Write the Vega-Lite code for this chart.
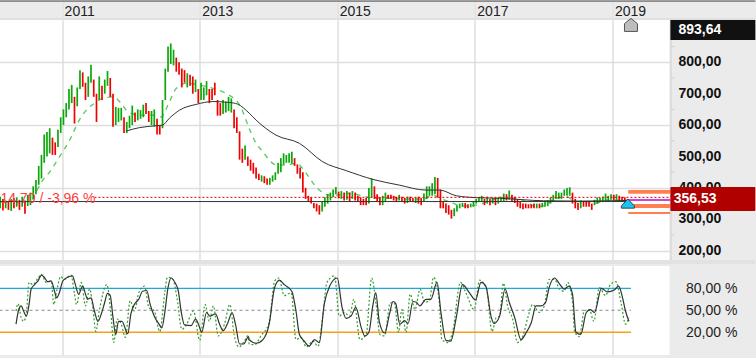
{"$schema":"https://vega.github.io/schema/vega-lite/v6.json","background":"#ebebeb","padding":{"left":-2.5,"top":0,"right":0,"bottom":4},"spacing":1,"config":{"view":{"stroke":null,"fill":"#ffffff"},"text":{"font":"Liberation Sans"}},
"datasets":{
"candles":[
{"t":2010.1,"l":335,"h":372,"d":"u"},{"t":2010.14,"l":328,"h":365,"d":"d"},{"t":2010.18,"l":335,"h":360,"d":"u"},{"t":2010.22,"l":330,"h":355,"d":"d"},{"t":2010.26,"l":327,"h":365,"d":"u"},{"t":2010.3,"l":335,"h":368,"d":"d"},{"t":2010.34,"l":340,"h":370,"d":"u"},{"t":2010.38,"l":330,"h":362,"d":"d"},{"t":2010.42,"l":340,"h":372,"d":"u"},{"t":2010.46,"l":318,"h":360,"d":"d"},{"t":2010.5,"l":342,"h":378,"d":"u"},{"t":2010.54,"l":345,"h":385,"d":"u"},{"t":2010.58,"l":365,"h":405,"d":"u"},{"t":2010.62,"l":380,"h":425,"d":"u"},{"t":2010.66,"l":410,"h":470,"d":"u"},{"t":2010.7,"l":430,"h":505,"d":"u"},{"t":2010.74,"l":480,"h":570,"d":"u"},{"t":2010.78,"l":500,"h":578,"d":"u"},{"t":2010.82,"l":510,"h":590,"d":"u"},{"t":2010.86,"l":505,"h":560,"d":"d"},{"t":2010.9,"l":505,"h":545,"d":"d"},{"t":2010.94,"l":530,"h":585,"d":"u"},{"t":2010.98,"l":575,"h":625,"d":"u"},{"t":2011.02,"l":600,"h":650,"d":"u"},{"t":2011.06,"l":625,"h":670,"d":"u"},{"t":2011.1,"l":650,"h":715,"d":"u"},{"t":2011.14,"l":670,"h":728,"d":"u"},{"t":2011.18,"l":605,"h":690,"d":"d"},{"t":2011.22,"l":660,"h":720,"d":"u"},{"t":2011.26,"l":715,"h":775,"d":"u"},{"t":2011.3,"l":722,"h":768,"d":"d"},{"t":2011.34,"l":680,"h":735,"d":"d"},{"t":2011.38,"l":690,"h":755,"d":"u"},{"t":2011.42,"l":735,"h":792,"d":"u"},{"t":2011.46,"l":690,"h":745,"d":"d"},{"t":2011.5,"l":610,"h":700,"d":"d"},{"t":2011.54,"l":680,"h":755,"d":"u"},{"t":2011.58,"l":680,"h":725,"d":"d"},{"t":2011.62,"l":700,"h":745,"d":"u"},{"t":2011.66,"l":725,"h":772,"d":"u"},{"t":2011.7,"l":690,"h":750,"d":"d"},{"t":2011.74,"l":595,"h":700,"d":"d"},{"t":2011.78,"l":600,"h":658,"d":"u"},{"t":2011.82,"l":610,"h":655,"d":"u"},{"t":2011.86,"l":615,"h":655,"d":"u"},{"t":2011.9,"l":575,"h":625,"d":"d"},{"t":2011.94,"l":575,"h":610,"d":"u"},{"t":2011.98,"l":590,"h":630,"d":"u"},{"t":2012.02,"l":600,"h":662,"d":"u"},{"t":2012.06,"l":610,"h":640,"d":"d"},{"t":2012.1,"l":615,"h":650,"d":"u"},{"t":2012.14,"l":620,"h":648,"d":"u"},{"t":2012.18,"l":625,"h":665,"d":"u"},{"t":2012.22,"l":635,"h":670,"d":"d"},{"t":2012.26,"l":610,"h":645,"d":"d"},{"t":2012.3,"l":600,"h":645,"d":"u"},{"t":2012.34,"l":595,"h":650,"d":"u"},{"t":2012.38,"l":570,"h":620,"d":"d"},{"t":2012.42,"l":570,"h":600,"d":"d"},{"t":2012.46,"l":590,"h":680,"d":"u"},{"t":2012.5,"l":680,"h":780,"d":"u"},{"t":2012.54,"l":770,"h":850,"d":"u"},{"t":2012.58,"l":795,"h":860,"d":"u"},{"t":2012.62,"l":790,"h":840,"d":"u"},{"t":2012.66,"l":770,"h":815,"d":"d"},{"t":2012.7,"l":760,"h":800,"d":"d"},{"t":2012.74,"l":720,"h":780,"d":"d"},{"t":2012.78,"l":735,"h":775,"d":"d"},{"t":2012.82,"l":720,"h":765,"d":"u"},{"t":2012.86,"l":725,"h":760,"d":"d"},{"t":2012.9,"l":700,"h":755,"d":"d"},{"t":2012.94,"l":705,"h":745,"d":"u"},{"t":2012.98,"l":670,"h":715,"d":"d"},{"t":2013.02,"l":680,"h":735,"d":"u"},{"t":2013.06,"l":680,"h":720,"d":"u"},{"t":2013.1,"l":695,"h":740,"d":"u"},{"t":2013.14,"l":670,"h":715,"d":"d"},{"t":2013.18,"l":680,"h":715,"d":"d"},{"t":2013.22,"l":695,"h":735,"d":"d"},{"t":2013.26,"l":630,"h":680,"d":"d"},{"t":2013.3,"l":630,"h":670,"d":"d"},{"t":2013.34,"l":635,"h":680,"d":"u"},{"t":2013.38,"l":640,"h":675,"d":"u"},{"t":2013.42,"l":645,"h":690,"d":"u"},{"t":2013.46,"l":640,"h":685,"d":"u"},{"t":2013.5,"l":590,"h":650,"d":"d"},{"t":2013.54,"l":575,"h":625,"d":"d"},{"t":2013.58,"l":490,"h":580,"d":"d"},{"t":2013.62,"l":480,"h":525,"d":"d"},{"t":2013.66,"l":490,"h":535,"d":"u"},{"t":2013.7,"l":470,"h":500,"d":"d"},{"t":2013.74,"l":455,"h":490,"d":"d"},{"t":2013.78,"l":445,"h":480,"d":"d"},{"t":2013.82,"l":430,"h":465,"d":"d"},{"t":2013.86,"l":425,"h":445,"d":"d"},{"t":2013.9,"l":420,"h":440,"d":"u"},{"t":2013.94,"l":415,"h":437,"d":"d"},{"t":2013.98,"l":410,"h":430,"d":"d"},{"t":2014.02,"l":410,"h":432,"d":"u"},{"t":2014.06,"l":420,"h":440,"d":"u"},{"t":2014.1,"l":425,"h":450,"d":"u"},{"t":2014.14,"l":445,"h":480,"d":"u"},{"t":2014.18,"l":450,"h":495,"d":"u"},{"t":2014.22,"l":475,"h":510,"d":"u"},{"t":2014.26,"l":480,"h":505,"d":"u"},{"t":2014.3,"l":480,"h":510,"d":"u"},{"t":2014.34,"l":478,"h":515,"d":"u"},{"t":2014.38,"l":470,"h":495,"d":"d"},{"t":2014.42,"l":445,"h":475,"d":"d"},{"t":2014.46,"l":430,"h":465,"d":"d"},{"t":2014.5,"l":385,"h":450,"d":"d"},{"t":2014.54,"l":365,"h":400,"d":"d"},{"t":2014.58,"l":355,"h":375,"d":"d"},{"t":2014.62,"l":350,"h":370,"d":"d"},{"t":2014.66,"l":335,"h":352,"d":"d"},{"t":2014.7,"l":325,"h":350,"d":"d"},{"t":2014.74,"l":315,"h":345,"d":"d"},{"t":2014.78,"l":325,"h":355,"d":"u"},{"t":2014.82,"l":340,"h":370,"d":"u"},{"t":2014.86,"l":350,"h":380,"d":"u"},{"t":2014.9,"l":360,"h":385,"d":"u"},{"t":2014.94,"l":370,"h":395,"d":"u"},{"t":2014.98,"l":380,"h":403,"d":"u"},{"t":2015.02,"l":367,"h":388,"d":"d"},{"t":2015.06,"l":365,"h":390,"d":"u"},{"t":2015.1,"l":360,"h":385,"d":"d"},{"t":2015.14,"l":362,"h":390,"d":"u"},{"t":2015.18,"l":355,"h":385,"d":"d"},{"t":2015.22,"l":365,"h":390,"d":"u"},{"t":2015.26,"l":360,"h":385,"d":"d"},{"t":2015.3,"l":355,"h":375,"d":"d"},{"t":2015.34,"l":345,"h":370,"d":"d"},{"t":2015.38,"l":345,"h":365,"d":"d"},{"t":2015.42,"l":345,"h":368,"d":"d"},{"t":2015.46,"l":350,"h":400,"d":"u"},{"t":2015.5,"l":370,"h":430,"d":"u"},{"t":2015.54,"l":365,"h":405,"d":"d"},{"t":2015.58,"l":355,"h":380,"d":"d"},{"t":2015.62,"l":345,"h":370,"d":"d"},{"t":2015.66,"l":345,"h":375,"d":"u"},{"t":2015.7,"l":355,"h":385,"d":"u"},{"t":2015.74,"l":365,"h":378,"d":"d"},{"t":2015.78,"l":365,"h":378,"d":"d"},{"t":2015.82,"l":360,"h":375,"d":"d"},{"t":2015.86,"l":355,"h":372,"d":"d"},{"t":2015.9,"l":360,"h":378,"d":"u"},{"t":2015.94,"l":355,"h":372,"d":"d"},{"t":2015.98,"l":350,"h":368,"d":"d"},{"t":2016.02,"l":352,"h":372,"d":"u"},{"t":2016.06,"l":358,"h":372,"d":"d"},{"t":2016.1,"l":355,"h":368,"d":"d"},{"t":2016.14,"l":352,"h":370,"d":"u"},{"t":2016.18,"l":350,"h":372,"d":"d"},{"t":2016.22,"l":345,"h":368,"d":"d"},{"t":2016.26,"l":358,"h":382,"d":"u"},{"t":2016.3,"l":365,"h":405,"d":"u"},{"t":2016.34,"l":375,"h":405,"d":"u"},{"t":2016.38,"l":375,"h":415,"d":"u"},{"t":2016.42,"l":380,"h":435,"d":"u"},{"t":2016.46,"l":370,"h":432,"d":"d"},{"t":2016.5,"l":335,"h":395,"d":"d"},{"t":2016.54,"l":335,"h":355,"d":"d"},{"t":2016.58,"l":320,"h":350,"d":"d"},{"t":2016.62,"l":315,"h":345,"d":"d"},{"t":2016.66,"l":302,"h":330,"d":"d"},{"t":2016.7,"l":310,"h":335,"d":"u"},{"t":2016.74,"l":325,"h":345,"d":"u"},{"t":2016.78,"l":335,"h":350,"d":"u"},{"t":2016.82,"l":340,"h":352,"d":"u"},{"t":2016.86,"l":335,"h":352,"d":"d"},{"t":2016.9,"l":335,"h":348,"d":"d"},{"t":2016.94,"l":338,"h":350,"d":"u"},{"t":2016.98,"l":340,"h":358,"d":"u"},{"t":2017.02,"l":350,"h":365,"d":"u"},{"t":2017.06,"l":355,"h":370,"d":"u"},{"t":2017.1,"l":355,"h":375,"d":"u"},{"t":2017.14,"l":345,"h":365,"d":"d"},{"t":2017.18,"l":350,"h":372,"d":"u"},{"t":2017.22,"l":345,"h":365,"d":"d"},{"t":2017.26,"l":350,"h":368,"d":"u"},{"t":2017.3,"l":345,"h":368,"d":"d"},{"t":2017.34,"l":350,"h":370,"d":"u"},{"t":2017.38,"l":355,"h":372,"d":"u"},{"t":2017.42,"l":358,"h":382,"d":"u"},{"t":2017.46,"l":360,"h":380,"d":"d"},{"t":2017.5,"l":362,"h":392,"d":"u"},{"t":2017.54,"l":355,"h":378,"d":"d"},{"t":2017.58,"l":352,"h":372,"d":"d"},{"t":2017.62,"l":340,"h":365,"d":"d"},{"t":2017.66,"l":335,"h":355,"d":"d"},{"t":2017.7,"l":332,"h":350,"d":"d"},{"t":2017.74,"l":335,"h":350,"d":"d"},{"t":2017.78,"l":335,"h":348,"d":"d"},{"t":2017.82,"l":335,"h":348,"d":"d"},{"t":2017.86,"l":335,"h":350,"d":"d"},{"t":2017.9,"l":335,"h":350,"d":"u"},{"t":2017.94,"l":335,"h":350,"d":"d"},{"t":2017.98,"l":338,"h":352,"d":"u"},{"t":2018.02,"l":340,"h":355,"d":"u"},{"t":2018.06,"l":342,"h":360,"d":"u"},{"t":2018.1,"l":350,"h":370,"d":"u"},{"t":2018.14,"l":355,"h":378,"d":"u"},{"t":2018.18,"l":365,"h":390,"d":"u"},{"t":2018.22,"l":365,"h":385,"d":"u"},{"t":2018.26,"l":365,"h":385,"d":"u"},{"t":2018.3,"l":375,"h":395,"d":"u"},{"t":2018.34,"l":375,"h":400,"d":"u"},{"t":2018.38,"l":375,"h":402,"d":"u"},{"t":2018.42,"l":350,"h":385,"d":"d"},{"t":2018.46,"l":335,"h":365,"d":"d"},{"t":2018.5,"l":330,"h":352,"d":"d"},{"t":2018.54,"l":335,"h":360,"d":"u"},{"t":2018.58,"l":340,"h":358,"d":"d"},{"t":2018.62,"l":340,"h":358,"d":"d"},{"t":2018.66,"l":340,"h":355,"d":"d"},{"t":2018.7,"l":330,"h":350,"d":"d"},{"t":2018.74,"l":345,"h":362,"d":"u"},{"t":2018.78,"l":350,"h":370,"d":"u"},{"t":2018.82,"l":355,"h":368,"d":"u"},{"t":2018.86,"l":355,"h":372,"d":"u"},{"t":2018.9,"l":360,"h":382,"d":"u"},{"t":2018.94,"l":358,"h":375,"d":"u"},{"t":2018.98,"l":362,"h":380,"d":"u"},{"t":2019.02,"l":360,"h":378,"d":"d"},{"t":2019.06,"l":362,"h":380,"d":"u"},{"t":2019.1,"l":360,"h":375,"d":"d"},{"t":2019.14,"l":358,"h":372,"d":"d"},{"t":2019.18,"l":352,"h":370,"d":"d"},{"t":2019.22,"l":352,"h":365,"d":"d"}],
"smaLong":[{"t":2011.93,"p":581},{"t":2012.125,"p":592},{"t":2012.37,"p":598},{"t":2012.46,"p":600},{"t":2012.56,"p":622},{"t":2012.71,"p":648},{"t":2012.95,"p":666},{"t":2013.19,"p":675},{"t":2013.43,"p":672},{"t":2013.55,"p":667},{"t":2013.72,"p":638},{"t":2013.82,"p":616},{"t":2014.11,"p":568},{"t":2014.45,"p":542},{"t":2014.79,"p":483},{"t":2015.13,"p":455},{"t":2015.52,"p":427},{"t":2015.9,"p":409},{"t":2016.29,"p":393},{"t":2016.49,"p":393},{"t":2016.73,"p":375},{"t":2017.02,"p":369},{"t":2017.36,"p":367},{"t":2018,"p":359},{"t":2018.5,"p":358},{"t":2019.22,"p":360}],
"smaShort":[{"t":2010.57,"p":362},{"t":2010.72,"p":425},{"t":2010.82,"p":451},{"t":2010.96,"p":499},{"t":2011.11,"p":552},{"t":2011.25,"p":616},{"t":2011.4,"p":658},{"t":2011.47,"p":669},{"t":2011.59,"p":685},{"t":2011.74,"p":690},{"t":2011.86,"p":669},{"t":2011.96,"p":642},{"t":2012.125,"p":632},{"t":2012.32,"p":632},{"t":2012.44,"p":626},{"t":2012.56,"p":674},{"t":2012.66,"p":717},{"t":2012.8,"p":733},{"t":2013,"p":727},{"t":2013.19,"p":717},{"t":2013.38,"p":701},{"t":2013.58,"p":664},{"t":2013.72,"p":590},{"t":2013.75,"p":574},{"t":2013.82,"p":542},{"t":2013.92,"p":515},{"t":2014.01,"p":489},{"t":2014.11,"p":473},{"t":2014.26,"p":473},{"t":2014.4,"p":478},{"t":2014.57,"p":440},{"t":2014.67,"p":409},{"t":2014.77,"p":388},{"t":2014.89,"p":377},{"t":2014.98,"p":377},{"t":2015.18,"p":383},{"t":2015.37,"p":374},{"t":2015.52,"p":367},{"t":2015.76,"p":367},{"t":2016.05,"p":364},{"t":2016.24,"p":364},{"t":2016.39,"p":377},{"t":2016.49,"p":367},{"t":2016.63,"p":356},{"t":2016.82,"p":342},{"t":2017.02,"p":345},{"t":2017.21,"p":358},{"t":2017.36,"p":367},{"t":2017.55,"p":367},{"t":2017.75,"p":356},{"t":2017.89,"p":340},{"t":2018.03,"p":345},{"t":2018.18,"p":367},{"t":2018.33,"p":372},{"t":2018.47,"p":356},{"t":2018.62,"p":356},{"t":2018.76,"p":351},{"t":2018.91,"p":361},{"t":2019.2,"p":361}],
"bands":[{"t0":2019.23,"t1":2019.84,"p0":393,"p1":381},{"t0":2019.23,"t1":2019.84,"p0":349,"p1":336},{"t0":2019.23,"t1":2019.84,"p0":323,"p1":317}],
"minorTicks":[{"t0":2019.85,"t1":2019.9,"p":250},{"t0":2019.85,"t1":2019.9,"p":350},{"t0":2019.85,"t1":2019.9,"p":450},{"t0":2019.85,"t1":2019.9,"p":550},{"t0":2019.85,"t1":2019.9,"p":650},{"t0":2019.85,"t1":2019.9,"p":750},{"t0":2019.85,"t1":2019.9,"p":850}],
"priceLabels":[{"t":2019.96,"p":200,"s":"200,00"},{"t":2019.96,"p":300,"s":"300,00"},{"t":2019.96,"p":400,"s":"400,00"},{"t":2019.96,"p":500,"s":"500,00"},{"t":2019.96,"p":600,"s":"600,00"},{"t":2019.96,"p":700,"s":"700,00"},{"t":2019.96,"p":800,"s":"800,00"}],
"slow":[{"t":2010.33,"v":31},{"t":2010.37,"v":51},{"t":2010.405,"v":56},{"t":2010.44,"v":49},{"t":2010.48,"v":42},{"t":2010.52,"v":58},{"t":2010.55,"v":79},{"t":2010.6,"v":85},{"t":2010.65,"v":90},{"t":2010.7,"v":98},{"t":2010.74,"v":95},{"t":2010.79,"v":89},{"t":2010.84,"v":90},{"t":2010.89,"v":76},{"t":2010.92,"v":67},{"t":2010.96,"v":74},{"t":2011.01,"v":90},{"t":2011.08,"v":95},{"t":2011.15,"v":97},{"t":2011.19,"v":86},{"t":2011.24,"v":72},{"t":2011.3,"v":83},{"t":2011.34,"v":72},{"t":2011.37,"v":65},{"t":2011.42,"v":67},{"t":2011.47,"v":49},{"t":2011.52,"v":35},{"t":2011.57,"v":45},{"t":2011.62,"v":61},{"t":2011.66,"v":73},{"t":2011.7,"v":70},{"t":2011.74,"v":40},{"t":2011.78,"v":17},{"t":2011.82,"v":35},{"t":2011.87,"v":35},{"t":2011.955,"v":18},{"t":2012,"v":45},{"t":2012.05,"v":58},{"t":2012.115,"v":65},{"t":2012.17,"v":76},{"t":2012.23,"v":77},{"t":2012.28,"v":58},{"t":2012.34,"v":42},{"t":2012.41,"v":31},{"t":2012.45,"v":26},{"t":2012.49,"v":45},{"t":2012.54,"v":81},{"t":2012.585,"v":94},{"t":2012.64,"v":88},{"t":2012.69,"v":76},{"t":2012.73,"v":49},{"t":2012.78,"v":30},{"t":2012.875,"v":29},{"t":2012.94,"v":38},{"t":2012.99,"v":29},{"t":2013.03,"v":20},{"t":2013.1,"v":47},{"t":2013.15,"v":42},{"t":2013.23,"v":45},{"t":2013.29,"v":31},{"t":2013.34,"v":22},{"t":2013.41,"v":33},{"t":2013.47,"v":47},{"t":2013.52,"v":31},{"t":2013.58,"v":4},{"t":2013.64,"v":4},{"t":2013.71,"v":14},{"t":2013.72,"v":10},{"t":2013.82,"v":5},{"t":2013.92,"v":10},{"t":2014.01,"v":31},{"t":2014.09,"v":81},{"t":2014.16,"v":91},{"t":2014.23,"v":85},{"t":2014.34,"v":76},{"t":2014.4,"v":49},{"t":2014.45,"v":17},{"t":2014.52,"v":8},{"t":2014.59,"v":1},{"t":2014.67,"v":10},{"t":2014.74,"v":6},{"t":2014.81,"v":58},{"t":2014.89,"v":83},{"t":2015,"v":94},{"t":2015.07,"v":54},{"t":2015.13,"v":39},{"t":2015.2,"v":42},{"t":2015.27,"v":54},{"t":2015.35,"v":26},{"t":2015.4,"v":15},{"t":2015.46,"v":20},{"t":2015.52,"v":58},{"t":2015.56,"v":74},{"t":2015.61,"v":35},{"t":2015.69,"v":19},{"t":2015.76,"v":45},{"t":2015.81,"v":62},{"t":2015.85,"v":59},{"t":2015.91,"v":31},{"t":2015.98,"v":36},{"t":2016.03,"v":32},{"t":2016.1,"v":62},{"t":2016.15,"v":61},{"t":2016.2,"v":56},{"t":2016.29,"v":65},{"t":2016.36,"v":65},{"t":2016.45,"v":88},{"t":2016.51,"v":45},{"t":2016.58,"v":9},{"t":2016.65,"v":8},{"t":2016.73,"v":40},{"t":2016.82,"v":85},{"t":2016.92,"v":74},{"t":2017.01,"v":64},{"t":2017.09,"v":88},{"t":2017.16,"v":83},{"t":2017.24,"v":40},{"t":2017.28,"v":32},{"t":2017.36,"v":42},{"t":2017.44,"v":79},{"t":2017.5,"v":61},{"t":2017.58,"v":40},{"t":2017.67,"v":10},{"t":2017.75,"v":20},{"t":2017.82,"v":33},{"t":2017.89,"v":56},{"t":2017.96,"v":56},{"t":2018.03,"v":61},{"t":2018.08,"v":81},{"t":2018.16,"v":94},{"t":2018.23,"v":86},{"t":2018.3,"v":79},{"t":2018.37,"v":83},{"t":2018.42,"v":72},{"t":2018.47,"v":20},{"t":2018.54,"v":17},{"t":2018.62,"v":47},{"t":2018.68,"v":51},{"t":2018.74,"v":47},{"t":2018.84,"v":80},{"t":2018.93,"v":75},{"t":2019.03,"v":78},{"t":2019.09,"v":83},{"t":2019.14,"v":70},{"t":2019.19,"v":49},{"t":2019.24,"v":35}],
"fast":[{"t":2010.33,"v":49},{"t":2010.36,"v":59},{"t":2010.405,"v":40},{"t":2010.44,"v":35},{"t":2010.48,"v":45},{"t":2010.52,"v":88},{"t":2010.575,"v":85},{"t":2010.65,"v":94},{"t":2010.7,"v":99},{"t":2010.77,"v":88},{"t":2010.84,"v":90},{"t":2010.88,"v":58},{"t":2010.92,"v":76},{"t":2010.98,"v":96},{"t":2011.03,"v":92},{"t":2011.13,"v":98},{"t":2011.18,"v":72},{"t":2011.21,"v":58},{"t":2011.28,"v":88},{"t":2011.34,"v":56},{"t":2011.4,"v":79},{"t":2011.45,"v":51},{"t":2011.49,"v":21},{"t":2011.54,"v":49},{"t":2011.65,"v":85},{"t":2011.71,"v":45},{"t":2011.75,"v":6},{"t":2011.8,"v":38},{"t":2011.86,"v":31},{"t":2011.92,"v":13},{"t":2011.99,"v":63},{"t":2012.05,"v":49},{"t":2012.115,"v":74},{"t":2012.2,"v":83},{"t":2012.26,"v":54},{"t":2012.34,"v":49},{"t":2012.42,"v":21},{"t":2012.49,"v":72},{"t":2012.53,"v":95},{"t":2012.61,"v":92},{"t":2012.67,"v":67},{"t":2012.74,"v":24},{"t":2012.8,"v":29},{"t":2012.91,"v":49},{"t":2013,"v":9},{"t":2013.08,"v":58},{"t":2013.14,"v":35},{"t":2013.2,"v":56},{"t":2013.27,"v":15},{"t":2013.36,"v":31},{"t":2013.44,"v":58},{"t":2013.5,"v":17},{"t":2013.57,"v":0},{"t":2013.65,"v":8},{"t":2013.7,"v":15},{"t":2013.72,"v":4},{"t":2013.8,"v":3},{"t":2013.89,"v":15},{"t":2014.01,"v":33},{"t":2014.09,"v":90},{"t":2014.15,"v":94},{"t":2014.23,"v":70},{"t":2014.33,"v":74},{"t":2014.4,"v":10},{"t":2014.475,"v":13},{"t":2014.55,"v":0},{"t":2014.645,"v":8},{"t":2014.72,"v":1},{"t":2014.79,"v":42},{"t":2014.85,"v":88},{"t":2014.96,"v":97},{"t":2015.03,"v":42},{"t":2015.1,"v":47},{"t":2015.18,"v":42},{"t":2015.24,"v":65},{"t":2015.33,"v":10},{"t":2015.42,"v":17},{"t":2015.5,"v":94},{"t":2015.565,"v":58},{"t":2015.62,"v":17},{"t":2015.69,"v":15},{"t":2015.77,"v":60},{"t":2015.83,"v":60},{"t":2015.89,"v":20},{"t":2015.94,"v":51},{"t":2016,"v":20},{"t":2016.06,"v":72},{"t":2016.13,"v":51},{"t":2016.205,"v":79},{"t":2016.27,"v":61},{"t":2016.34,"v":63},{"t":2016.4,"v":95},{"t":2016.48,"v":65},{"t":2016.52,"v":10},{"t":2016.61,"v":6},{"t":2016.68,"v":22},{"t":2016.79,"v":88},{"t":2016.87,"v":74},{"t":2016.99,"v":51},{"t":2017.07,"v":91},{"t":2017.17,"v":79},{"t":2017.25,"v":21},{"t":2017.31,"v":40},{"t":2017.36,"v":42},{"t":2017.415,"v":87},{"t":2017.48,"v":54},{"t":2017.55,"v":38},{"t":2017.62,"v":6},{"t":2017.7,"v":15},{"t":2017.77,"v":40},{"t":2017.84,"v":58},{"t":2017.94,"v":47},{"t":2018.01,"v":56},{"t":2018.08,"v":92},{"t":2018.16,"v":92},{"t":2018.23,"v":79},{"t":2018.3,"v":76},{"t":2018.35,"v":88},{"t":2018.42,"v":61},{"t":2018.45,"v":21},{"t":2018.52,"v":14},{"t":2018.59,"v":49},{"t":2018.665,"v":51},{"t":2018.73,"v":35},{"t":2018.81,"v":81},{"t":2018.9,"v":70},{"t":2018.97,"v":85},{"t":2019.05,"v":89},{"t":2019.13,"v":58},{"t":2019.19,"v":31},{"t":2019.24,"v":40}]
},
"vconcat":[
{"width":670,"height":240,"layer":[
{"data":{"values":[{"t":2010.09,"t1":2021.078,"p":995}]},"mark":{"type":"rule","color":"#444444","strokeWidth":1},"encoding":{"x":{"field":"t","type":"quantitative","scale":{"domain":[2010.09,2019.83],"nice":false,"zero":false},"axis":{"orient":"top","values":[2011,2013,2015,2017,2019],"format":"d","domain":false,"grid":true,"gridColor":"#dedede","gridWidth":1.5,"tickColor":"#e0e0e0","tickSize":19,"labelAlign":"left","labelBaseline":"alphabetic","labelOffset":2,"labelPadding":-14,"labelFont":"Liberation Sans","labelFontSize":14,"labelColor":"#222222","title":null}},"x2":{"field":"t1"},"y":{"field":"p","type":"quantitative","scale":{"domain":[170.4,934.7],"nice":false,"zero":false},"axis":{"orient":"right","values":[200,300,400,500,600,700,800,900],"domain":false,"grid":true,"gridColor":"#dedede","gridWidth":1.5,"ticks":false,"labels":false,"title":null}}}},
{"data":{"values":[{"t":2010.09,"t1":2021.078,"p":938}]},"mark":{"type":"rule","color":"#e0e0e0","strokeWidth":2},"encoding":{"x":{"field":"t","type":"quantitative"},"x2":{"field":"t1"},"y":{"field":"p","type":"quantitative"}}},
{"data":{"values":[{"t":2010.09,"t1":2021.078,"p":164}]},"mark":{"type":"rule","color":"#e2e2e2","strokeWidth":4},"encoding":{"x":{"field":"t","type":"quantitative"},"x2":{"field":"t1"},"y":{"field":"p","type":"quantitative"}}},
{"data":{"values":[{"t":2019.85,"p0":170.4,"p1":934.7}]},"mark":{"type":"rule","color":"#dcdcdc","strokeWidth":2},"encoding":{"x":{"field":"t","type":"quantitative"},"y":{"field":"p0","type":"quantitative"},"y2":{"field":"p1"}}},
{"data":{"name":"minorTicks"},"mark":{"type":"rule","color":"#cfcfcf","strokeWidth":1},"encoding":{"x":{"field":"t0","type":"quantitative"},"x2":{"field":"t1"},"y":{"field":"p","type":"quantitative"}}},
{"data":{"name":"priceLabels"},"mark":{"type":"text","align":"left","baseline":"middle","fontSize":14,"fontWeight":"bold","color":"#111111"},"encoding":{"x":{"field":"t","type":"quantitative"},"y":{"field":"p","type":"quantitative"},"text":{"field":"s"}}},
{"data":{"name":"bands"},"mark":{"type":"rect","color":"#ff7f50"},"encoding":{"x":{"field":"t0","type":"quantitative"},"x2":{"field":"t1"},"y":{"field":"p0","type":"quantitative"},"y2":{"field":"p1"}}},
{"data":{"values":[{"t":2019.23,"t1":2019.84,"p":361.5}]},"mark":{"type":"rule","color":"#d000c0","strokeWidth":1.5},"encoding":{"x":{"field":"t","type":"quantitative"},"x2":{"field":"t1"},"y":{"field":"p","type":"quantitative"}}},
{"data":{"name":"smaShort"},"mark":{"type":"line","color":"#58c858","strokeWidth":1.3,"strokeDash":[5,5],"interpolate":"monotone"},"encoding":{"x":{"field":"t","type":"quantitative"},"y":{"field":"p","type":"quantitative"}}},
{"data":{"name":"candles"},"mark":{"type":"rule","strokeWidth":1.7},"encoding":{"x":{"field":"t","type":"quantitative"},"y":{"field":"l","type":"quantitative"},"y2":{"field":"h"},"color":{"field":"d","type":"nominal","scale":{"domain":["u","d"],"range":["#0aa80a","#f20000"]},"legend":null}}},
{"data":{"name":"smaLong"},"mark":{"type":"line","color":"#333333","strokeWidth":1,"interpolate":"monotone"},"encoding":{"x":{"field":"t","type":"quantitative"},"y":{"field":"p","type":"quantitative"}}},
{"data":{"values":[{"t":2010.09,"t1":2019.23,"p":356.5}]},"mark":{"type":"rule","color":"#333333","strokeWidth":1},"encoding":{"x":{"field":"t","type":"quantitative"},"x2":{"field":"t1"},"y":{"field":"p","type":"quantitative"}}},
{"data":{"values":[{"t":2011.47,"t1":2019.84,"p":370}]},"mark":{"type":"rule","color":"#e00000","strokeWidth":1,"strokeDash":[2,2]},"encoding":{"x":{"field":"t","type":"quantitative"},"x2":{"field":"t1"},"y":{"field":"p","type":"quantitative"}}},
{"data":{"values":[{"t":2010.105,"p":365,"s":"14,70 / -3,96 %"}]},"mark":{"type":"text","align":"left","baseline":"middle","fontSize":14,"color":"#ff3b3b"},"encoding":{"x":{"field":"t","type":"quantitative"},"y":{"field":"p","type":"quantitative"},"text":{"field":"s"}}},
{"data":{"values":[{"t0":2019.843,"t1":2021.078,"p0":934.7,"p1":871}]},"mark":{"type":"rect","color":"#111111"},"encoding":{"x":{"field":"t0","type":"quantitative"},"x2":{"field":"t1"},"y":{"field":"p0","type":"quantitative"},"y2":{"field":"p1"}}},
{"data":{"values":[{"t0":2019.843,"t1":2021.078,"p0":403,"p1":326.4}]},"mark":{"type":"rect","color":"#b00000","cornerRadius":1},"encoding":{"x":{"field":"t0","type":"quantitative"},"x2":{"field":"t1"},"y":{"field":"p0","type":"quantitative"},"y2":{"field":"p1"}}},
{"data":{"values":[{"t":2019.96,"p":903,"s":"893,64"},{"t":2019.89,"p":364,"s":"356,53"}]},"mark":{"type":"text","align":"left","baseline":"middle","fontSize":14,"fontWeight":"bold","color":"#ffffff"},"encoding":{"x":{"field":"t","type":"quantitative"},"y":{"field":"p","type":"quantitative"},"text":{"field":"s"}}},
{"data":{"values":[{"t":2019.27,"p":919}]},"mark":{"type":"point","filled":true,"size":169,"shape":"M0,-1L1,-0.2L1,1L-1,1L-1,-0.2Z","fill":"#bdbdbd","stroke":"#555555","strokeWidth":1,"opacity":1},"encoding":{"x":{"field":"t","type":"quantitative"},"y":{"field":"p","type":"quantitative"}}},
{"data":{"values":[{"t":2019.225,"p":350}]},"mark":{"type":"point","filled":true,"size":169,"shape":"M0,-0.7L1,0.35L1,0.7L-1,0.7L-1,0.35Z","fill":"#18c4f2","stroke":"#444444","strokeWidth":1,"opacity":1},"encoding":{"x":{"field":"t","type":"quantitative"},"y":{"field":"p","type":"quantitative"}}}
]},
{"width":670,"height":89,"layer":[
{"data":{"values":[{"t":2010.09,"t1":2019.27,"v":50}]},"mark":{"type":"rule","color":"#888888","strokeWidth":1,"strokeDash":[3,3]},"encoding":{"x":{"field":"t","type":"quantitative","scale":{"domain":[2010.09,2019.83],"nice":false,"zero":false},"axis":{"orient":"bottom","values":[2011,2013,2015,2017,2019],"domain":false,"ticks":false,"labels":false,"grid":true,"gridColor":"#dedede","gridWidth":1.5,"title":null}},"x2":{"field":"t1"},"y":{"field":"v","type":"quantitative","scale":{"domain":[-11,110.4],"nice":false,"zero":false},"axis":{"orient":"right","values":[20,50,80],"domain":false,"ticks":false,"grid":false,"labelAlign":"left","labelPadding":16,"labelFont":"Liberation Sans","labelFontSize":14,"labelColor":"#222222","labelExpr":"replace(format(datum.value,'.2f'),'.',',') + ' %'","title":null}}}},
{"data":{"values":[{"t":2010.09,"t1":2019.27,"v":80}]},"mark":{"type":"rule","color":"#1ea7e0","strokeWidth":1.3},"encoding":{"x":{"field":"t","type":"quantitative"},"x2":{"field":"t1"},"y":{"field":"v","type":"quantitative"}}},
{"data":{"values":[{"t":2010.09,"t1":2019.27,"v":20}]},"mark":{"type":"rule","color":"#f5a01e","strokeWidth":1.3},"encoding":{"x":{"field":"t","type":"quantitative"},"x2":{"field":"t1"},"y":{"field":"v","type":"quantitative"}}},
{"data":{"name":"fast"},"mark":{"type":"line","color":"#2e9e2e","strokeWidth":1.2,"strokeDash":[2,2],"interpolate":"monotone"},"encoding":{"x":{"field":"t","type":"quantitative"},"y":{"field":"v","type":"quantitative"}}},
{"data":{"name":"slow"},"mark":{"type":"line","color":"#333333","strokeWidth":1.2,"interpolate":"monotone"},"encoding":{"x":{"field":"t","type":"quantitative"},"y":{"field":"v","type":"quantitative"}}}
]}
]}
